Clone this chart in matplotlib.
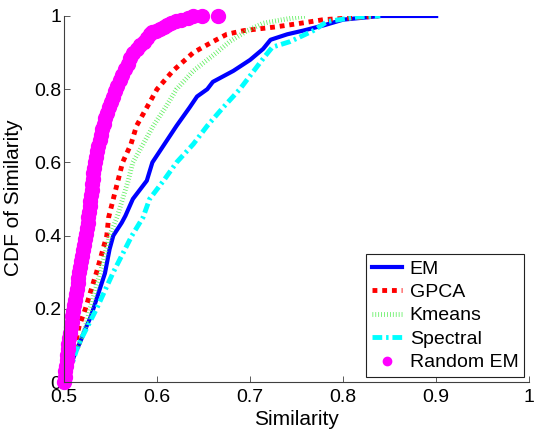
import matplotlib
matplotlib.use('Agg')
import matplotlib.pyplot as plt
from matplotlib.ticker import FuncFormatter
import numpy as np

# dados (x = similaridade, y = CDF)
em_x = [0.505, 0.508, 0.512, 0.517, 0.523, 0.529, 0.535, 0.544, 0.549, 0.553, 0.562, 0.566,
        0.574, 0.589, 0.595, 0.608, 0.621, 0.635, 0.643, 0.654, 0.660, 0.682, 0.700, 0.714,
        0.722, 0.740, 0.757, 0.780, 0.800, 0.820, 0.840, 0.900]
em_y = [0.03, 0.05, 0.08, 0.107, 0.145, 0.18, 0.227, 0.297, 0.363, 0.40, 0.435, 0.454,
        0.50, 0.55, 0.60, 0.65, 0.70, 0.75, 0.78, 0.80, 0.82, 0.85, 0.88, 0.91,
        0.935, 0.95, 0.96, 0.975, 0.99, 0.995, 1.0, 1.0]

gpca_x = [0.503, 0.508, 0.512, 0.516, 0.523, 0.535, 0.546, 0.548, 0.553, 0.558, 0.563, 0.572,
          0.578, 0.589, 0.600, 0.617, 0.639, 0.660, 0.675, 0.693, 0.727, 0.754, 0.779, 0.810, 0.838]
gpca_y = [0.04, 0.07, 0.10, 0.15, 0.20, 0.30, 0.40, 0.45, 0.50, 0.55, 0.60, 0.65,
          0.70, 0.75, 0.80, 0.85, 0.90, 0.93, 0.95, 0.96, 0.97, 0.98, 0.99, 0.995, 1.0]

km_x = [0.504, 0.510, 0.516, 0.523, 0.528, 0.539, 0.549, 0.557, 0.563, 0.569, 0.574, 0.585,
        0.596, 0.609, 0.621, 0.639, 0.664, 0.678, 0.697, 0.714, 0.735, 0.760]
km_y = [0.04, 0.07, 0.10, 0.15, 0.20, 0.30, 0.40, 0.45, 0.50, 0.55, 0.60, 0.65,
        0.70, 0.75, 0.80, 0.85, 0.90, 0.93, 0.96, 0.98, 0.99, 1.0]

sp_x = [0.505, 0.510, 0.515, 0.525, 0.535, 0.553, 0.573, 0.585, 0.592, 0.607, 0.621, 0.639,
        0.654, 0.671, 0.689, 0.704, 0.716, 0.724, 0.743, 0.768, 0.783, 0.815, 0.840]
sp_y = [0.02, 0.06, 0.10, 0.15, 0.20, 0.30, 0.40, 0.45, 0.50, 0.55, 0.60, 0.65,
        0.70, 0.75, 0.80, 0.85, 0.89, 0.915, 0.93, 0.96, 0.985, 0.997, 1.0]

rem_x = [0.5000, 0.5007, 0.5014, 0.5020, 0.5027, 0.5034, 0.5040, 0.5048, 0.5056, 0.5065,
         0.5073, 0.5081, 0.5089, 0.5097, 0.5106, 0.5116, 0.5126, 0.5136, 0.5146, 0.5155,
         0.5165, 0.5175, 0.5186, 0.5196, 0.5207, 0.5217, 0.5228, 0.5238, 0.5245, 0.5253,
         0.5260, 0.5268, 0.5275, 0.5283, 0.5290, 0.5297, 0.5303, 0.5310, 0.5317, 0.5323,
         0.5330, 0.5343, 0.5357, 0.5370, 0.5384, 0.5398, 0.5411, 0.5426, 0.5446, 0.5465,
         0.5485, 0.5504, 0.5524, 0.5543, 0.5569, 0.5598, 0.5626, 0.5655, 0.5683, 0.5712,
         0.5740, 0.5780, 0.5820, 0.5855, 0.5890, 0.5925, 0.5950, 0.5990, 0.6030, 0.6070,
         0.6110, 0.6150, 0.6200, 0.6260, 0.6330, 0.6390, 0.6480, 0.6660]
rem_y = [0.000, 0.015, 0.030, 0.045, 0.060, 0.075, 0.090, 0.105, 0.120, 0.135,
         0.150, 0.165, 0.180, 0.195, 0.210, 0.225, 0.240, 0.255, 0.270, 0.285,
         0.300, 0.315, 0.330, 0.345, 0.360, 0.375, 0.390, 0.405, 0.420, 0.435,
         0.450, 0.465, 0.480, 0.495, 0.510, 0.525, 0.540, 0.555, 0.570, 0.585,
         0.600, 0.615, 0.630, 0.645, 0.660, 0.675, 0.690, 0.705, 0.720, 0.735,
         0.750, 0.765, 0.780, 0.795, 0.810, 0.825, 0.840, 0.855, 0.870, 0.885,
         0.900, 0.910, 0.920, 0.930, 0.940, 0.950, 0.955, 0.960, 0.965, 0.970,
         0.975, 0.980, 0.985, 0.990, 0.995, 1.000, 1.000, 1.000]

x_ticks = [0.5, 0.6, 0.7, 0.8, 0.9, 1.0]
y_ticks = [0, 0.2, 0.4, 0.6, 0.8, 1.0]

plt.rcParams['font.family'] = ['Liberation Sans', 'DejaVu Sans']
plt.rcParams['font.size'] = 14

fig = plt.figure(figsize=(5.4, 4.32), dpi=100)
ax = fig.add_axes([0.1185, 0.1157, 0.8615, 0.8473])

ax.plot(em_x, em_y, color='#0000ff', lw=3, label='EM')
ax.plot(gpca_x, gpca_y, color='#ff0000', lw=3.5, dashes=(1.0, 1.0), label='GPCA')
ax.plot(km_x, km_y, color='#55ee55', lw=3.5, dashes=(0.15, 0.45), label='Kmeans')
ax.plot(sp_x, sp_y, color='#00ffff', lw=3.5, dashes=(2.0, 0.8, 0.5, 0.8), label='Spectral')
ax.plot(rem_x, rem_y, 'o', color='#ff00ff', ms=10, mec='#ff00ff', clip_on=False, label='Random EM')

ax.set_xlim(0.5, 1.0)
ax.set_ylim(0, 1.0)
ax.set_xticks(x_ticks)
ax.set_yticks(y_ticks)
fmt = FuncFormatter(lambda v, p: '%g' % v)
ax.xaxis.set_major_formatter(fmt)
ax.yaxis.set_major_formatter(fmt)
ax.tick_params(direction='in', length=4, width=0.6, color='#404040', labelsize=14)
ax.tick_params(axis='x', pad=5)
ax.tick_params(axis='y', pad=2)

ax.spines['top'].set_visible(False)
ax.spines['right'].set_visible(False)
for s in ['left', 'bottom']:
    ax.spines[s].set_color('#404040')
    ax.spines[s].set_linewidth(0.8)

ax.set_xlabel('Similarity', fontsize=15)
ax.set_ylabel('CDF of Similarity', fontsize=15)
ax.xaxis.set_label_coords(0.5, -0.076)
ax.yaxis.set_label_coords(-0.088, 0.504)

leg = ax.legend(loc='lower right', fancybox=False, framealpha=1, edgecolor='#222222',
                handlelength=1.55, handletextpad=0.4, labelspacing=0.3,
                borderaxespad=0.25, borderpad=0.3, fontsize=14, markerscale=0.6)
leg.get_frame().set_linewidth(0.8)

fig.savefig('out.png', dpi=100)
